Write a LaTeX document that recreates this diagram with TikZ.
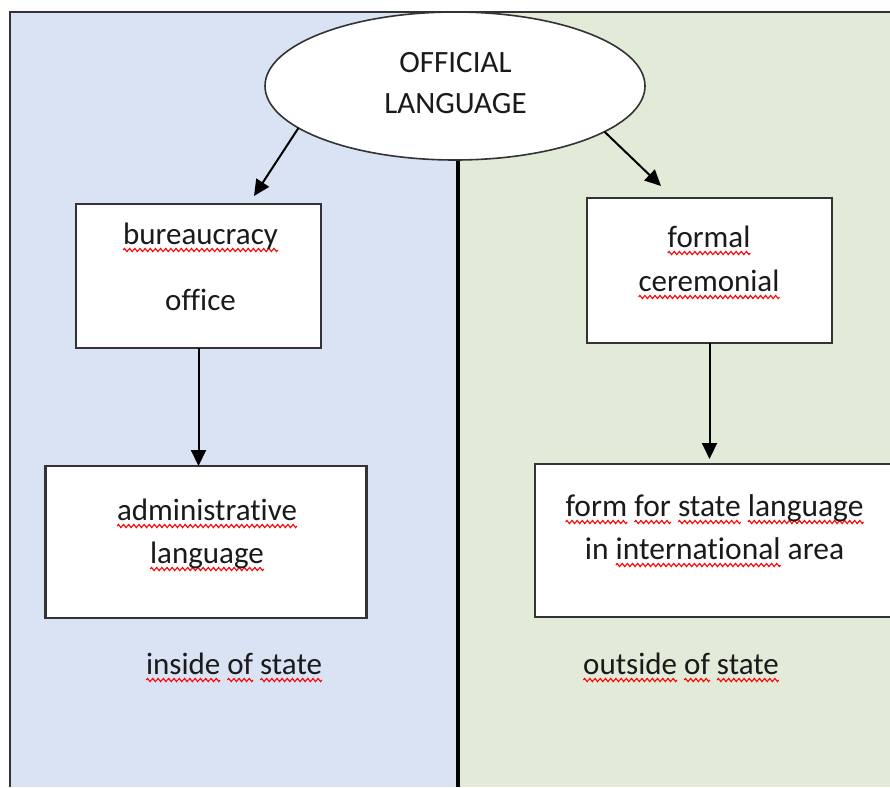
\documentclass[tikz,border=0pt]{standalone}
\usepackage{fontspec}
\setmainfont{Carlito}[Ligatures=NoCommon]
\usetikzlibrary{shapes.geometric,arrows.meta}
\definecolor{panelblue}{HTML}{DAE3F3}
\definecolor{panelgreen}{HTML}{E2EAD8}
\definecolor{framegray}{HTML}{333333}
\definecolor{txtcol}{HTML}{1A1A1A}
\newsavebox\wavebox
\newcommand\wv[1]{\setbox0\hbox{#1}\rlap{\lower6pt\hbox to\wd0{\xleaders\copy\wavebox\hfill}}\box0\relax}
\begin{document}
\sbox\wavebox{\begin{pgfpicture}
  \pgfpathrectangle{\pgfpoint{0pt}{-2pt}}{\pgfpoint{5pt}{4pt}}
  \pgfusepath{use as bounding box}
  \pgfsetbaseline{0pt}
  \pgfsetlinewidth{1.1pt}
  \pgfsetstrokecolor{red}
  \pgfpathmoveto{\pgfpoint{0pt}{0pt}}
  \pgfpathsine{\pgfpoint{1.25pt}{1.6pt}}
  \pgfpathcosine{\pgfpoint{1.25pt}{-1.6pt}}
  \pgfpathsine{\pgfpoint{1.25pt}{-1.6pt}}
  \pgfpathcosine{\pgfpoint{1.25pt}{1.6pt}}
  \pgfusepath{stroke}
\end{pgfpicture}}
\begin{tikzpicture}[x=1pt,y=-1pt,
  boxnode/.style={rectangle, draw=framegray, fill=white, line width=2.2pt, inner sep=0pt, outer sep=0pt},
  arr/.style={line width=2pt, -{Triangle[length=16pt,width=15pt]}},
  txt/.style={align=center, anchor=base, inner sep=0pt, text=txtcol}]
\useasboundingbox (0,0) rectangle (890,787);
\clip (0,0) rectangle (890,787);
% panels
\fill[panelblue] (10,12) rectangle (458,787);
\fill[panelgreen] (458,12) rectangle (890,787);
\draw[framegray, line width=2.2pt] (10,787) -- (10,12) -- (890,12);
% divider
\coordinate (dtop) at (458,150);
\coordinate (dbot) at (458,787);
\draw[line width=3.5pt] (dtop) -- (dbot);
% ellipse
\node[ellipse, draw=framegray, fill=white, line width=1.6pt, minimum width=380pt, minimum height=148pt, inner sep=0pt, outer sep=0pt] (ell) at (455,86) {};
% boxes
\node[boxnode, minimum width=245pt, minimum height=144pt] (b1) at (198.5,276) {};
\node[boxnode, minimum width=245pt, minimum height=145pt] (b2) at (709.5,270.5) {};
\node[boxnode, minimum width=321pt, minimum height=152pt] (b3) at (206,542) {};
\node[boxnode, minimum width=358pt, minimum height=153pt] (b4) at (714,540.5) {};
% arrow ends
\coordinate (a1e) at (254,196);
\coordinate (a2e) at (661,186);
\coordinate (a4e) at (709.5,459);
\draw[arr] (ell.195.9) -- (a1e);
\draw[arr] (ell.343.5) -- (a2e);
\draw[arr] (b1.south) -- (b1.south |- b3.north);
\draw[arr] (b2.south) -- (a4e);
% texts
\node[txt, font=\fontsize{31}{41}\selectfont] (t0) at (455.5,113) {OFFICIAL\\LANGUAGE};
\node[txt, font=\fontsize{31}{66}\selectfont] (t1) at (200.5,310) {\wv{bureaucracy}\\office};
\node[txt, font=\fontsize{31}{44}\selectfont] (t2) at (709,291) {\wv{formal}\\\wv{ceremonial}};
\node[txt, font=\fontsize{31}{43}\selectfont] (t3) at (207,563) {\wv{administrative}\\\wv{language}};
\node[txt, font=\fontsize{31.5}{43}\selectfont] (t4) at (714.5,559) {\wv{form} \wv{for} \wv{state} \wv{language}\\in \wv{international} area};
\node[txt, font=\fontsize{31}{43}\selectfont] (t5) at (234,674) {\wv{inside} \wv{of} \wv{state}};
\node[txt, font=\fontsize{31}{43}\selectfont] (t6) at (681,674) {\wv{outside} \wv{of} \wv{state}};
\end{tikzpicture}
\end{document}
